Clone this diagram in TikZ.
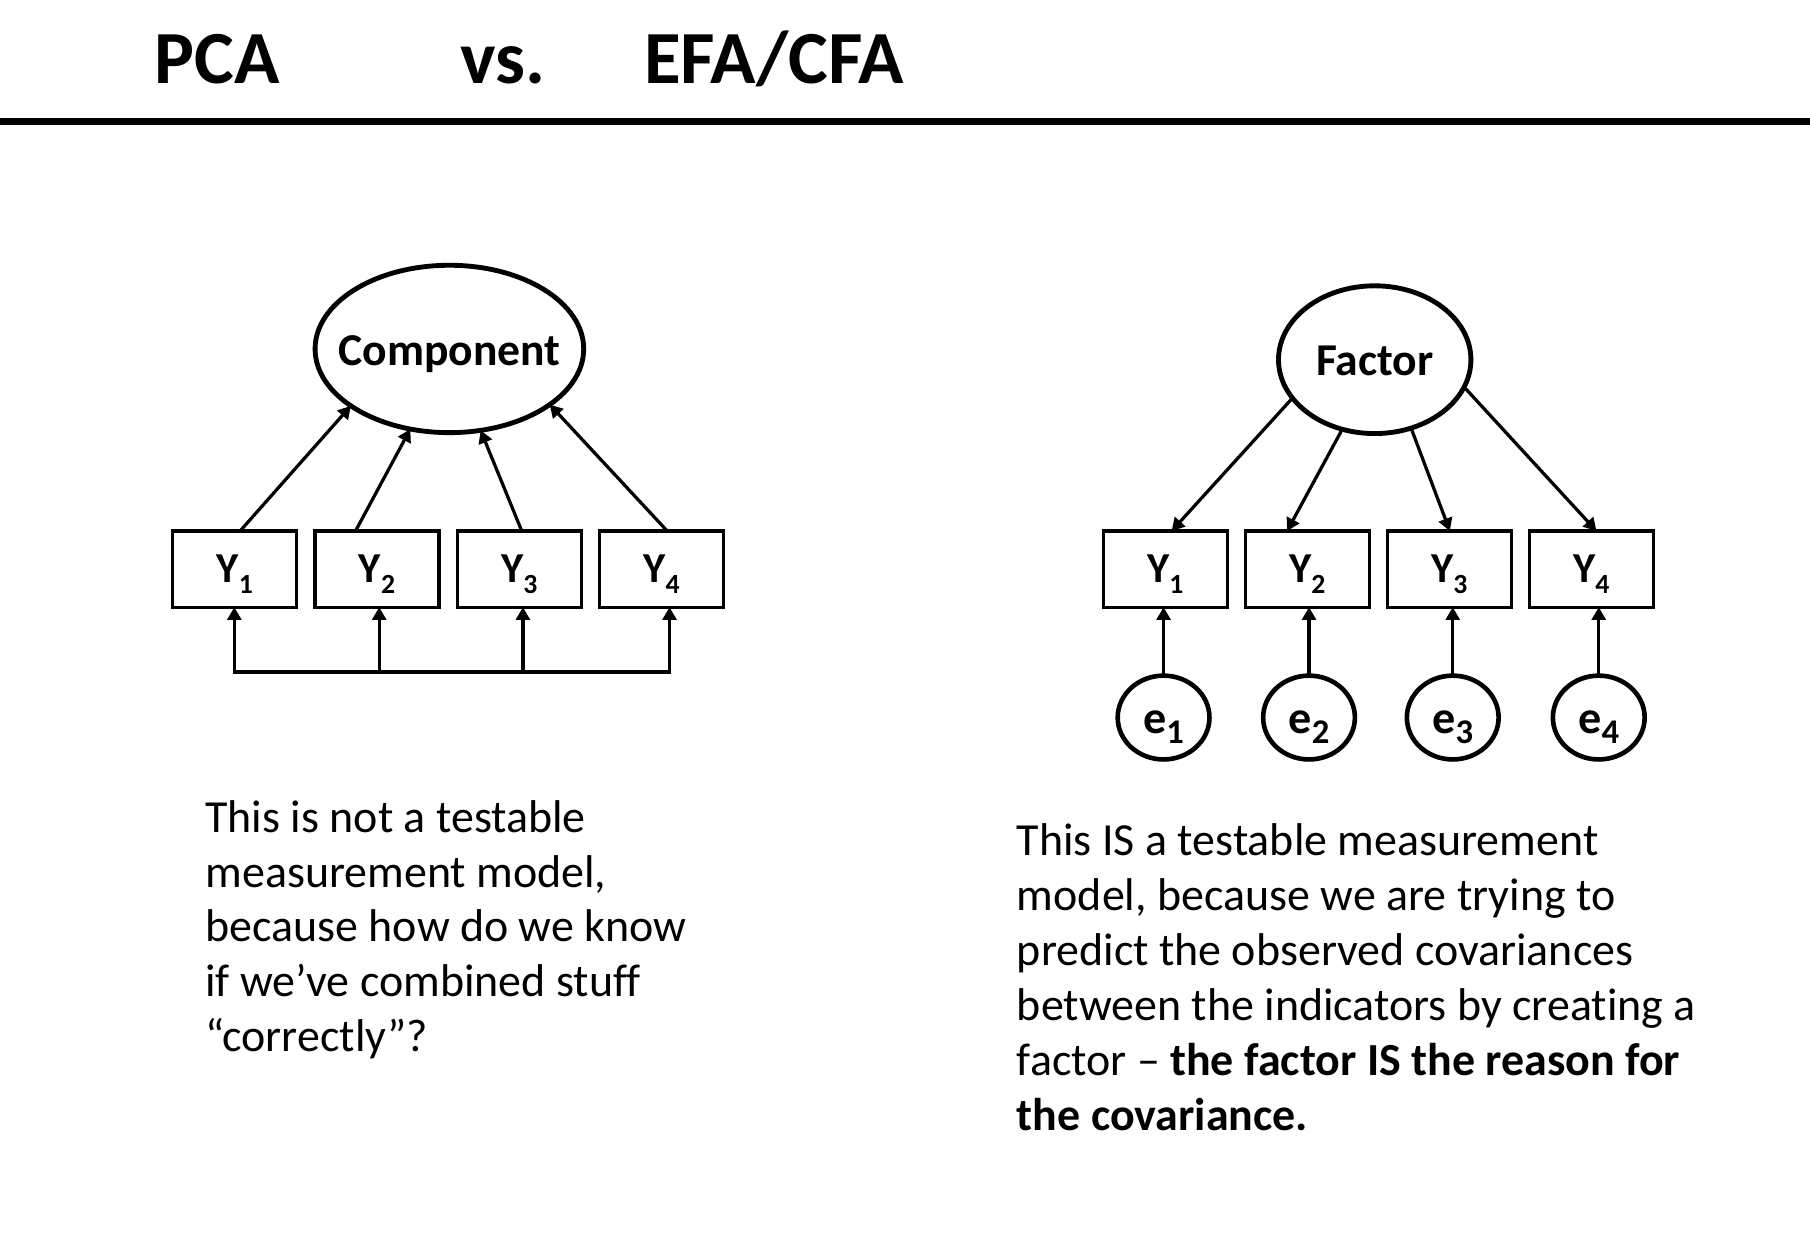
\documentclass[tikz,border=0pt]{standalone}
\usepackage{fontspec}
\setmainfont{Carlito}[Ligatures=NoCommon]
\usetikzlibrary{shapes.geometric,arrows.meta}
\newcommand\subidx[3]{\raisebox{-#2pt}{\fontsize{#1}{#1}\selectfont #3}}
\newcommand\ylab[1]{Y\subidx{24}{10}{#1}}
\newcommand\elab[1]{e\subidx{30}{9}{#1}}
\tikzset{
  every node/.style={inner sep=0pt,outer sep=0pt},
  latent/.style={ellipse,draw,line width=4.2pt,text height=28pt,text depth=0pt,font=\fontsize{39.5}{40}\selectfont\bfseries},
  obsbox/.style={rectangle,draw,line width=2.9pt,minimum width=107.5pt,minimum height=66pt,text height=23pt,text depth=0pt,font=\fontsize{37}{37}\selectfont\bfseries},
  errc/.style={ellipse,draw,line width=4pt,minimum width=79.5pt,minimum height=72.6pt,text height=26.8pt,text depth=0pt,font=\fontsize{40}{40}\selectfont\bfseries},
  path/.style={line width=2.8pt,-{Triangle[length=11pt,width=12pt]}},
  bodytxt/.style={anchor=base west,font=\fontsize{39.8}{47}\selectfont},
  titletxt/.style={anchor=base west,font=\fontsize{65}{70}\selectfont\bfseries},
}
\begin{document}
\begin{tikzpicture}[x=1pt,y=-1pt]
\useasboundingbox (0,0) rectangle (1568,1077.7);
% title
\node[titletxt] (t1) at (134,72) {PCA};
\node[titletxt] (t2) at (399,72) {vs.};
\node[titletxt] (t3) at (558,72) {EFA/CFA};
\coordinate (rl) at (0,105);
\coordinate (rr) at (1568,105);
\draw[line width=6pt] (rl) -- (rr);

% ---------- left: PCA ----------
\node[latent,minimum width=232.7pt,minimum height=145pt] (comp) at (389.3,302.3) {\makebox[0pt]{Component}};
\node[obsbox] (y1) at (203.3,493) {\ylab{1}};
\node[obsbox] (y2) at (326.6,493) {\ylab{2}};
\node[obsbox] (y3) at (449.9,493) {\ylab{3}};
\node[obsbox] (y4) at (573.2,493) {\ylab{4}};
\draw[path] ([xshift=4.7pt]y1.north) -- (comp.210.7);
\draw[path] ([xshift=-18.6pt]y2.north) -- (comp.244.8);
\draw[path] ([xshift=2.1pt]y3.north) -- (comp.291);
\draw[path] ([xshift=4.8pt]y4.north) -- (comp.331);
\coordinate (b1) at (203,582);
\coordinate (b2) at (328.5,582);
\coordinate (b3) at (453,582);
\coordinate (b4) at (580,582);
\draw[line width=2.9pt] ([xshift=-1.45pt]b1) -- ([xshift=1.45pt]b4);
\draw[path] (b1) -- (b1 |- y1.south);
\draw[path] (b2) -- (b2 |- y2.south);
\draw[path] (b3) -- (b3 |- y3.south);
\draw[path] (b4) -- (b4 |- y4.south);

% ---------- right: EFA/CFA ----------
\node[latent,minimum width=166.7pt,minimum height=128pt] (fac) at (1190.9,311.6) {\makebox[0pt]{Factor}};
\node[obsbox] (z1) at (1009.5,493) {\ylab{1}};
\node[obsbox] (z2) at (1132.5,493) {\ylab{2}};
\node[obsbox] (z3) at (1255.5,493) {\ylab{3}};
\node[obsbox] (z4) at (1378.5,493) {\ylab{4}};
\draw[path] (fac.205.4) -- ([xshift=5.5pt]z1.north);
\draw[path] (fac.245.5) -- ([xshift=-17.5pt]z2.north);
\draw[path] (fac.298.3) -- ([xshift=0.5pt]z3.north);
\draw[path] (fac.343.9) -- ([xshift=4.5pt]z4.north);
\node[errc] (e1) at (1008,621.6) {\elab{1}};
\node[errc] (e2) at (1134,621.6) {\elab{2}};
\node[errc] (e3) at (1258.5,621.6) {\elab{3}};
\node[errc] (e4) at (1385,621.6) {\elab{4}};
\draw[path] (e1.north) -- (e1.north |- z1.south);
\draw[path] (e2.north) -- (e2.north |- z2.south);
\draw[path] (e3.north) -- (e3.north |- z3.south);
\draw[path] (e4.north) -- (e4.north |- z4.south);

% ---------- texts ----------
\node[bodytxt] (l1) at (178,721) {This is not a testable};
\node[bodytxt] (l2) at (178,768.5) {measurement model,};
\node[bodytxt] (l3) at (178,816) {because how do we know};
\node[bodytxt] (l4) at (178,863.5) {if we’ve combined stuff};
\node[bodytxt] (l5) at (178,911) {“correctly”?};

\node[bodytxt] (r1) at (881,741) {This IS a testable measurement};
\node[bodytxt] (r2) at (881,789) {model, because we are trying to};
\node[bodytxt] (r3) at (881,836) {predict the observed covariances};
\node[bodytxt] (r4) at (881,884) {between the indicators by creating a};
\node[bodytxt] (r5) at (881,932) {factor – \textbf{the factor IS the reason for}};
\node[bodytxt] (r6) at (881,979) {\textbf{the covariance.}};
\end{tikzpicture}
\end{document}
